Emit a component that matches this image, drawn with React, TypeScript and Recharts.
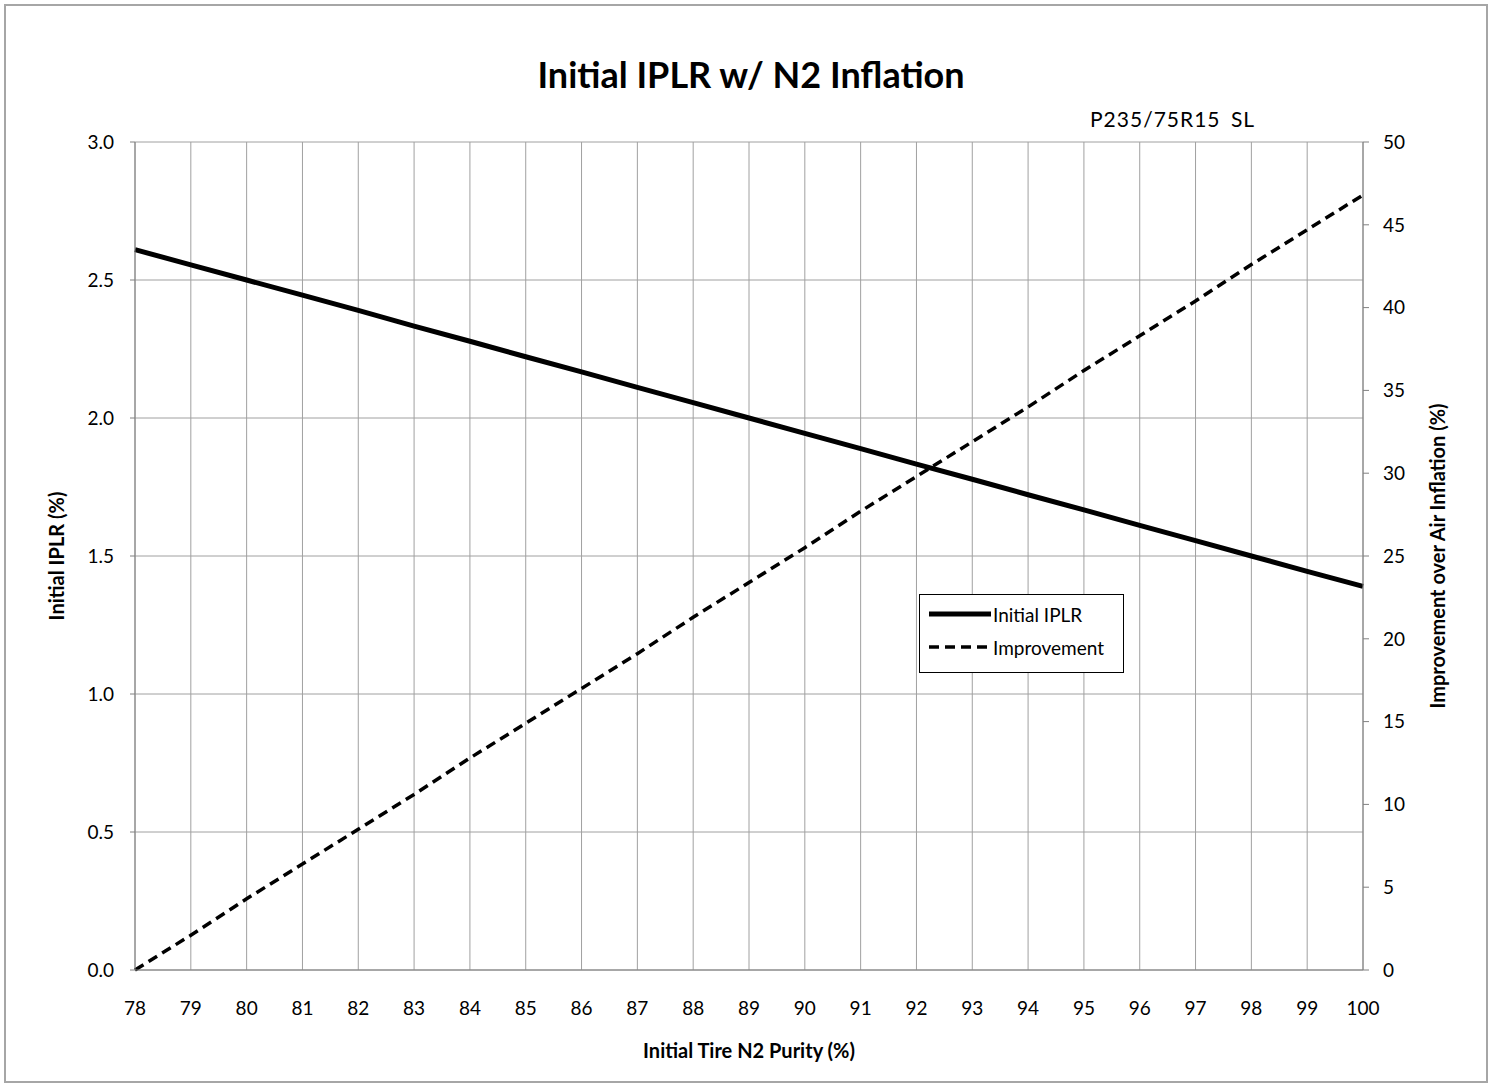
import React from 'react';
import { LineChart, Line, XAxis, YAxis, CartesianGrid } from 'recharts';

const purity = [78, 79, 80, 81, 82, 83, 84, 85, 86, 87, 88, 89, 90, 91, 92, 93, 94, 95, 96, 97, 98, 99, 100];
const iplr = [2.61, 2.555, 2.5, 2.445, 2.39, 2.333, 2.278, 2.222, 2.167, 2.111, 2.056, 2.0, 1.944, 1.889, 1.833, 1.778, 1.722, 1.667, 1.611, 1.556, 1.5, 1.444, 1.39];
const improvement = [0, 2.1, 4.3, 6.4, 8.5, 10.6, 12.8, 14.9, 17.0, 19.1, 21.3, 23.4, 25.5, 27.7, 29.8, 31.9, 34.0, 36.2, 38.3, 40.4, 42.6, 44.7, 46.8];
const leftTicks = [0, 0.5, 1.0, 1.5, 2.0, 2.5, 3.0];
const rightTicks = [0, 5, 10, 15, 20, 25, 30, 35, 40, 45, 50];

const data = purity.map((p, i) => ({ purity: p, iplr: iplr[i], improvement: improvement[i] }));

const font = 'Lato, "Open Sans", sans-serif';
const tickStyle = { fontSize: 19, fill: '#000', fontFamily: font };

// legend drawn by hand, Recharts' Legend eats plot space
const LegendBox = () => (
  <div style={{ position: 'absolute', left: 919, top: 594, border: '1px solid #000', background: '#fff', width: 205, height: 79, fontFamily: font, fontSize: 19, boxSizing: 'border-box' }}>
    <div style={{ display: 'flex', alignItems: 'center', height: 38, paddingLeft: 9 }}>
      <svg width={62} height={10}><line x1={0} y1={5} x2={62} y2={5} stroke="#000" strokeWidth={5} /></svg>
      <span style={{ marginLeft: 2 }}>Initial IPLR</span>
    </div>
    <div style={{ display: 'flex', alignItems: 'center', height: 28, paddingLeft: 9 }}>
      <svg width={62} height={10}><line x1={0} y1={5} x2={62} y2={5} stroke="#000" strokeWidth={3.5} strokeDasharray="10 6" /></svg>
      <span style={{ marginLeft: 2 }}>Improvement</span>
    </div>
  </div>
);

export default function App() {
  return (
    <div style={{ position: 'absolute', left: 0, top: 0, width: 1491, height: 1086, background: '#fff' }}>
      <div style={{ position: 'absolute', left: 4, top: 4, width: 1484, height: 1079, border: '2px solid #a6a6a6', boxSizing: 'border-box' }} />
      <div style={{ position: 'absolute', left: 0, width: 1502, top: 52, textAlign: 'center', fontFamily: font, fontWeight: 700, fontSize: 36 }}>
        Initial IPLR w/ N2 Inflation
      </div>
      <div style={{ position: 'absolute', left: 1090, top: 106, fontFamily: font, fontSize: 21, letterSpacing: 1, wordSpacing: 4 }}>P235/75R15 SL</div>
      <LineChart width={1491} height={1086} data={data} margin={{ top: 142, right: 58, bottom: 76, left: 65 }} style={{ position: 'absolute', left: 0, top: 0 }}>
        <CartesianGrid stroke="#a0a0a0" strokeWidth={1} verticalValues={purity} horizontalValues={leftTicks} yAxisId="left" />
        <XAxis
          dataKey="purity"
          type="number"
          domain={[78, 100]}
          ticks={purity}
          interval={0}
          tick={tickStyle}
          tickLine={false}
          tickMargin={26}
          axisLine={{ stroke: '#808080' }}
          height={40}
          label={{ value: 'Initial Tire N2 Purity (%)', position: 'insideBottom', offset: -48, style: { fontSize: 20, fontWeight: 700, fill: '#000', fontFamily: font } }}
        />
        <YAxis
          yAxisId="left"
          domain={[0, 3]}
          ticks={leftTicks}
          tickFormatter={(v: number) => v.toFixed(1)}
          tick={tickStyle}
          tickSize={5}
          tickMargin={16}
          tickLine={{ stroke: '#808080' }}
          axisLine={{ stroke: '#808080' }}
          width={70}
          label={{ value: 'Initial IPLR (%)', angle: -90, position: 'insideLeft', offset: -8, style: { fontSize: 20, fontWeight: 700, fill: '#000', fontFamily: font, textAnchor: 'middle' } }}
        />
        <YAxis
          yAxisId="right"
          orientation="right"
          domain={[0, 50]}
          ticks={rightTicks}
          tick={{ ...tickStyle, textAnchor: 'start' }}
          tickSize={6}
          tickMargin={14}
          tickLine={{ stroke: '#808080' }}
          axisLine={{ stroke: '#808080' }}
          width={70}
          label={{ value: 'Improvement over Air Inflation (%)', angle: -90, position: 'insideRight', offset: -5, style: { fontSize: 20, fontWeight: 700, fill: '#000', fontFamily: font, textAnchor: 'middle' } }}
        />
        <Line yAxisId="left" type="linear" dataKey="iplr" stroke="#000" strokeWidth={5} dot={false} isAnimationActive={false} />
        <Line yAxisId="right" type="linear" dataKey="improvement" stroke="#000" strokeWidth={3.5} strokeDasharray="10 6" dot={false} isAnimationActive={false} />
      </LineChart>
      <LegendBox />
    </div>
  );
}
